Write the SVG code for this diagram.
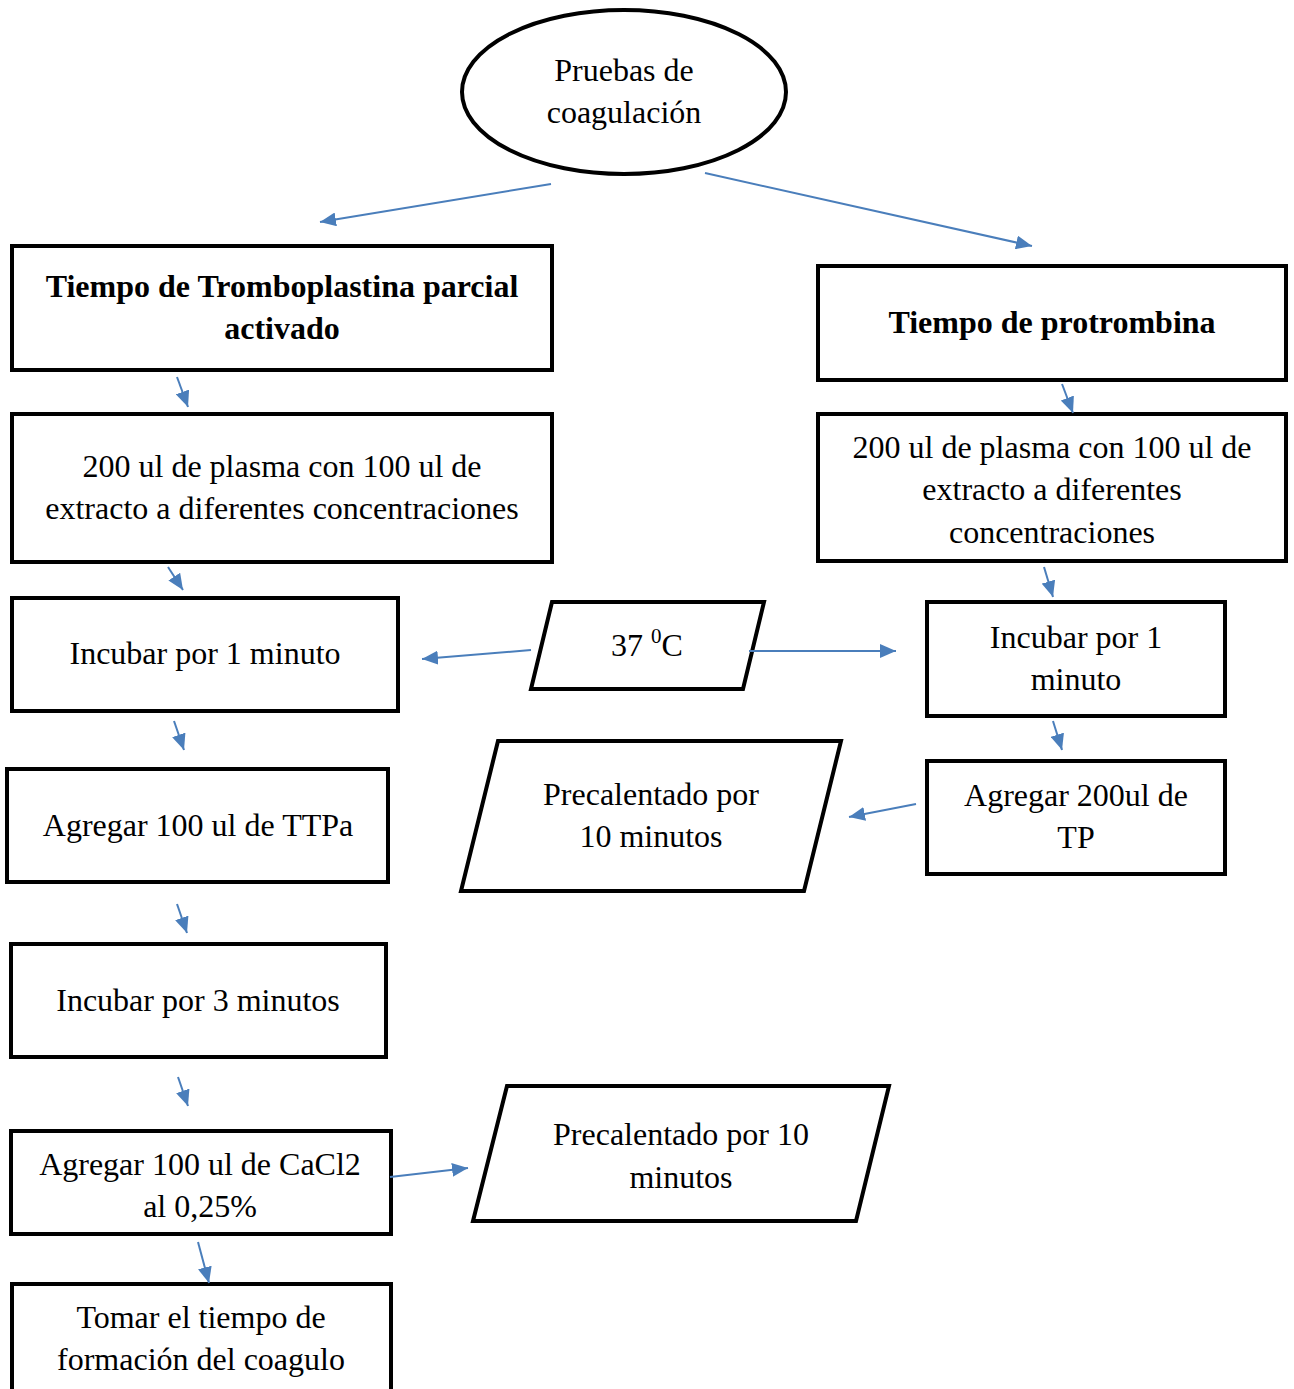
<svg xmlns="http://www.w3.org/2000/svg" width="1294" height="1389" viewBox="0 0 1294 1389">
<style>
.n{fill:#fff;stroke:#000;stroke-width:4;stroke-linejoin:miter}
.t{font-family:"Liberation Serif","Times New Roman",serif;font-size:32px;fill:#000;text-anchor:middle}
.b{font-weight:bold}
.c{stroke:#4a7ebb;stroke-width:2;fill:none;marker-end:url(#ah)}
</style>
<defs>
<marker id="ah" markerUnits="userSpaceOnUse" markerWidth="18" markerHeight="14" refX="16" refY="7" orient="auto">
<path d="M0,0 L16,7 L0,14 Z" fill="#4a7ebb"/>
</marker>
</defs>
<rect width="1294" height="1389" fill="#fff"/>
<g id="n0"><ellipse class="n" cx="624" cy="92" rx="162" ry="82"/><text class="t" x="624" y="81">Pruebas de</text><text class="t" x="624" y="123">coagulación</text></g>
<g id="n1"><rect class="n" x="12" y="246" width="540" height="124"/><text class="t b" x="282" y="297">Tiempo de Tromboplastina parcial</text><text class="t b" x="282" y="339">activado</text></g>
<g id="n2"><rect class="n" x="818" y="266" width="468" height="114"/><text class="t b" x="1052" y="333">Tiempo de protrombina</text></g>
<g id="n3"><rect class="n" x="12" y="414" width="540" height="148"/><text class="t" x="282" y="477">200 ul de plasma con 100 ul de</text><text class="t" x="282" y="519">extracto a diferentes concentraciones</text></g>
<g id="n4"><rect class="n" x="818" y="414" width="468" height="147"/><text class="t" x="1052" y="458">200 ul de plasma con 100 ul de</text><text class="t" x="1052" y="500">extracto a diferentes</text><text class="t" x="1052" y="543">concentraciones</text></g>
<g id="n5"><rect class="n" x="12" y="598" width="386" height="113"/><text class="t" x="205" y="664">Incubar por 1 minuto</text></g>
<g id="n6"><polygon class="n" points="552,602 764,602 743,689 531,689"/><text class="t" x="647" y="656">37 <tspan dy="-13" font-size="21">0</tspan><tspan dy="13">C</tspan></text></g>
<g id="n7"><rect class="n" x="927" y="602" width="298" height="114"/><text class="t" x="1076" y="648">Incubar por 1</text><text class="t" x="1076" y="690">minuto</text></g>
<g id="n8"><rect class="n" x="7" y="769" width="381" height="113"/><text class="t" x="198" y="836">Agregar 100 ul de TTPa</text></g>
<g id="n9"><polygon class="n" points="498,741 841,741 804,891 461,891"/><text class="t" x="651" y="805">Precalentado por</text><text class="t" x="651" y="847">10 minutos</text></g>
<g id="n10"><rect class="n" x="927" y="761" width="298" height="113"/><text class="t" x="1076" y="806">Agregar 200ul de</text><text class="t" x="1076" y="848">TP</text></g>
<g id="n11"><rect class="n" x="11" y="944" width="375" height="113"/><text class="t" x="198" y="1011">Incubar por 3 minutos</text></g>
<g id="n12"><rect class="n" x="11" y="1131" width="380" height="103"/><text class="t" x="200" y="1175">Agregar 100 ul de CaCl2</text><text class="t" x="200" y="1217">al 0,25%</text></g>
<g id="n13"><polygon class="n" points="507,1086 889,1086 856,1221 473,1221"/><text class="t" x="681" y="1145">Precalentado por 10</text><text class="t" x="681" y="1188">minutos</text></g>
<g id="n14"><rect class="n" x="12" y="1284" width="379" height="130"/><text class="t" x="201" y="1328">Tomar el tiempo de</text><text class="t" x="201" y="1370">formación del coagulo</text></g>
<g id="connectors">
<line class="c" x1="551" y1="184" x2="320" y2="222"/>
<line class="c" x1="705" y1="173" x2="1032" y2="246"/>
<line class="c" x1="177" y1="377" x2="188" y2="407"/>
<line class="c" x1="1062" y1="384" x2="1073" y2="413"/>
<line class="c" x1="168" y1="567" x2="183" y2="590"/>
<line class="c" x1="1044" y1="567" x2="1053" y2="597"/>
<line class="c" x1="531" y1="650" x2="422" y2="659"/>
<line class="c" x1="749" y1="651" x2="896" y2="651"/>
<line class="c" x1="174" y1="721" x2="184" y2="750"/>
<line class="c" x1="1053" y1="721" x2="1062" y2="750"/>
<line class="c" x1="916" y1="804" x2="849" y2="817"/>
<line class="c" x1="177" y1="904" x2="187" y2="933"/>
<line class="c" x1="178" y1="1077" x2="188" y2="1106"/>
<line class="c" x1="390" y1="1177" x2="468" y2="1168"/>
<line class="c" x1="198" y1="1242" x2="209" y2="1283"/>
</g>
</svg>
